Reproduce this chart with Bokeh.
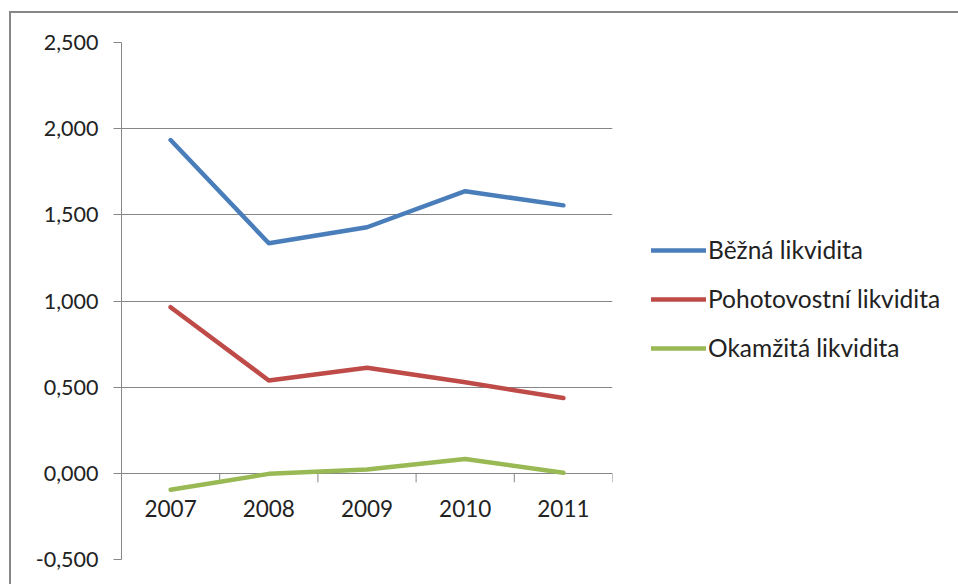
import math
from bokeh.plotting import figure
from bokeh.models import Range1d, FixedTicker, Legend, LegendItem
from bokeh.core.properties import value
from bokeh.embed import file_html
from bokeh.resources import INLINE

years = ["2007", "2008", "2009", "2010", "2011"]
bezna = [1.934, 1.335, 1.428, 1.637, 1.555]
pohotovostni = [0.964, 0.539, 0.613, 0.528, 0.437]
okamzita = [-0.095, -0.003, 0.022, 0.083, 0.003]
series_names = ["Běžná likvidita", "Pohotovostní likvidita", "Okamžitá likvidita"]
series_colors = ["#4A7EBB", "#BE4B48", "#98B954"]
y_ticks = [-0.5, 0.0, 0.5, 1.0, 1.5, 2.0, 2.5]
y_tick_labels = ["-0,500", "0,000", "0,500", "1,000", "1,500", "2,000", "2,500"]

FONT = "Lato"
GRID = "#868686"

xs = [i + 1 for i in range(len(years))]
bounds = [i + 1.5 for i in range(len(years))]

p = figure(
    frame_width=491, frame_height=517,
    min_border_left=110, min_border_top=29, min_border_bottom=25, min_border_right=346,
    x_range=Range1d(0.5, len(years) + 0.5), y_range=Range1d(y_ticks[0], y_ticks[-1]),
    x_axis_location=None, output_backend="svg", toolbar_location=None,
)
p.margin = (11, 0, 0, 9)
p.styles = {"border-left": "2px solid #878787", "border-top": "2px solid #878787"}
p.outline_line_color = None
p.background_fill_color = "white"
p.border_fill_color = "white"

p.xgrid.visible = False
p.ygrid.grid_line_color = GRID
p.ygrid.grid_line_width = 1
p.yaxis.ticker = FixedTicker(ticks=y_ticks)
p.yaxis.major_label_overrides = {t: l for t, l in zip(y_ticks, y_tick_labels)}
p.yaxis.axis_line_color = GRID
p.yaxis.major_tick_line_color = GRID
p.yaxis.major_tick_out = 8
p.yaxis.major_tick_in = 0
p.yaxis.minor_tick_line_color = None
p.yaxis.major_label_standoff = 15
p.yaxis.major_label_text_font = FONT
p.yaxis.major_label_text_font_size = "21.5px"
p.yaxis.major_label_text_color = "#222222"

# category axis crossing at zero: tick marks between categories and labels below
p.ray(x=bounds, y=[0] * len(bounds), length=9, length_units="screen",
      angle=-math.pi / 2, line_color=GRID, line_width=1)
p.text(x=xs, y=[0] * len(xs), text=years, text_align="center", text_baseline="top",
       y_offset=27, text_font=value(FONT), text_font_size="22.5px", text_color="#222222")

renderers = []
for vals, col in zip([bezna, pohotovostni, okamzita], series_colors):
    r = p.line(xs, vals, line_color=col, line_width=4.5, line_cap="round", line_join="round")
    renderers.append(r)

legend = Legend(
    items=[LegendItem(label=n, renderers=[r]) for n, r in zip(series_names, renderers)],
    location=(39, 197), orientation="vertical",
    glyph_width=55, glyph_height=20, label_height=20, spacing=20,
    label_standoff=2, padding=0, margin=0,
    border_line_color=None, background_fill_alpha=0,
    label_text_font=FONT, label_text_font_size="24.5px", label_text_color="#222222",
)
p.add_layout(legend, "right")

open("out.html", "w").write(file_html(p, INLINE))
